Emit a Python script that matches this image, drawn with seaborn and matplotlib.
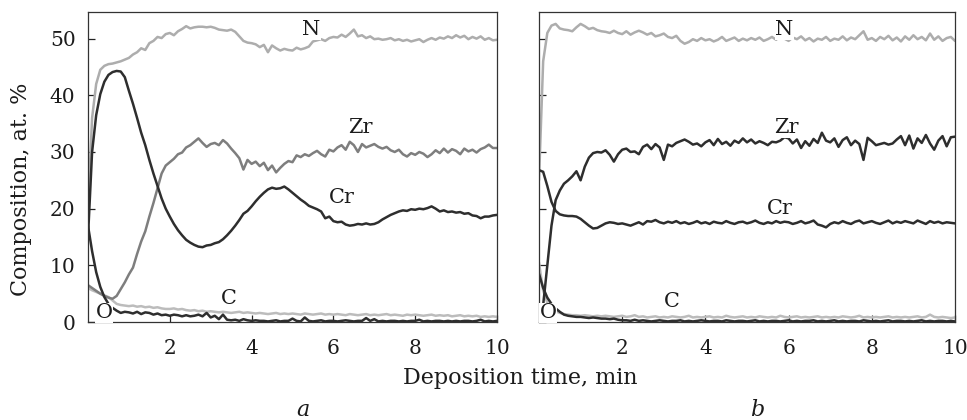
import numpy as np
import matplotlib
matplotlib.use("Agg")
import matplotlib.pyplot as plt
import seaborn as sns

# ─────────────────────────────────────────────
# DATA (t = 0 .. 10 min, step 0.1)
# ─────────────────────────────────────────────
time_min = np.linspace(0, 10, 101)

# panel a
a_N = [20.0, 36.0, 42.0, 44.5, 45.2, 45.5, 45.6, 45.8, 46.0, 46.3,
       46.6, 47.2, 47.6, 48.3, 48.0, 49.2, 49.6, 50.3, 50.1, 50.8,
       51.0, 50.6, 51.3, 51.7, 52.2, 51.8, 52.0, 52.1, 52.1, 52.0,
       52.1, 51.9, 51.6, 51.5, 51.4, 51.6, 51.2, 50.4, 49.6, 49.3,
       49.2, 49.0, 48.5, 48.9, 47.6, 48.8, 48.3, 47.9, 48.2, 48.0,
       47.9, 48.4, 48.1, 48.3, 48.6, 49.5, 49.7, 49.9, 49.6, 50.1,
       50.3, 50.2, 50.7, 50.3, 50.9, 51.6, 50.4, 50.6, 50.1, 50.4,
       49.9, 50.0, 49.8, 49.9, 50.1, 49.7, 49.9, 49.6, 49.8, 49.5,
       49.7, 49.9, 49.4, 49.8, 50.1, 49.8, 50.2, 50.0, 50.4, 50.1,
       50.6, 50.2, 50.5, 49.9, 50.3, 50.0, 50.4, 49.8, 50.1, 49.7, 49.8]
a_Zr = [6.5, 6.0, 5.5, 5.0, 4.6, 4.3, 4.1, 4.6, 5.8, 7.0,
        8.4, 9.6, 12.0, 14.2, 16.0, 18.6, 21.0, 23.6, 26.2, 27.6,
        28.2, 28.8, 29.6, 29.9, 30.8, 31.2, 31.8, 32.4, 31.6, 30.9,
        31.4, 31.6, 31.2, 32.1, 31.5, 30.6, 29.8, 28.9, 26.9, 28.6,
        27.9, 28.3, 27.5, 28.1, 26.8, 27.6, 26.4, 27.2, 27.9, 28.4,
        28.2, 29.4, 29.1, 29.6, 29.3, 29.8, 30.2, 29.6, 29.2, 30.4,
        30.1, 30.8, 31.2, 30.4, 31.8, 31.2, 30.0, 31.4, 30.8, 31.1,
        31.4, 30.9, 30.6, 30.9, 30.3, 30.0, 30.4, 29.6, 29.2, 29.8,
        29.5, 30.0, 29.7, 29.1, 29.6, 30.3, 29.8, 30.6, 29.9, 30.5,
        30.2, 29.6, 30.6, 30.1, 30.4, 29.9, 30.5, 30.8, 31.3, 30.7, 30.7]
a_Cr = [15.0, 30.0, 36.5, 40.2, 42.4, 43.6, 44.1, 44.3, 44.2, 43.2,
        40.8, 38.5, 36.0, 33.4, 31.2, 28.6, 26.2, 24.0, 21.8, 20.0,
        18.6, 17.3, 16.2, 15.3, 14.5, 14.0, 13.6, 13.3, 13.2, 13.5,
        13.6, 13.9, 14.1, 14.6, 15.3, 16.1, 17.0, 18.0, 19.1, 19.6,
        20.4, 21.3, 22.1, 22.8, 23.4, 23.7, 23.5, 23.6, 23.9, 23.4,
        22.8, 22.2, 21.6, 21.1, 20.5, 20.2, 19.9, 19.5, 18.3, 18.6,
        17.8, 17.6, 17.7, 17.2, 17.0, 17.1, 17.3, 17.2, 17.4, 17.2,
        17.3, 17.6, 18.1, 18.5, 18.9, 19.2, 19.5, 19.7, 19.6, 19.9,
        19.8, 20.0, 19.9, 20.1, 20.4, 20.0, 19.5, 19.7, 19.4, 19.5,
        19.3, 19.4, 19.1, 19.2, 18.8, 18.7, 18.3, 18.6, 18.6, 18.8, 18.9]
a_O = [17.0, 12.5, 8.8, 6.2, 4.4, 3.2, 2.5, 2.0, 1.6, 1.8,
       1.7, 1.5, 1.8, 1.4, 1.7, 1.6, 1.3, 1.5, 1.2, 1.3,
       1.1, 1.3, 1.2, 1.0, 1.2, 1.0, 1.1, 1.3, 1.0, 1.6,
       0.8, 1.1, 0.5, 1.3, 0.4, 0.3, 0.4, 0.2, 0.5, 0.3,
       0.2, 0.3, 0.2, 0.2, 0.1, 0.2, 0.3, 0.1, 0.2, 0.2,
       0.6, 0.2, 0.1, 0.8, 0.2, 0.1, 0.2, 0.3, 0.1, 0.2,
       0.2, 0.1, 0.2, 0.3, 0.2, 0.1, 0.2, 0.2, 0.7, 0.2,
       0.5, 0.1, 0.2, 0.1, 0.2, 0.2, 0.1, 0.2, 0.1, 0.2,
       0.2, 0.4, 0.1, 0.2, 0.1, 0.2, 0.2, 0.1, 0.2, 0.1,
       0.2, 0.1, 0.2, 0.2, 0.1, 0.2, 0.4, 0.1, 0.2, 0.1, 0.2]
a_C = [6.0, 5.6, 5.3, 5.0, 4.7, 4.4, 3.8, 3.2, 3.0, 2.9,
       2.8, 2.9, 2.7, 2.8, 2.6, 2.7, 2.5, 2.6, 2.4, 2.3,
       2.3, 2.4, 2.2, 2.3, 2.1, 2.0, 2.1, 1.9, 2.0, 1.8,
       1.9, 1.8, 1.7, 1.8, 1.7, 1.6, 1.7, 1.8, 1.6, 1.7,
       1.6, 1.5, 1.6, 1.5, 1.4, 1.5, 1.6, 1.4, 1.5, 1.4,
       1.5, 1.4, 1.3, 1.5, 1.4, 1.3, 1.4, 1.5, 1.3, 1.4,
       1.3, 1.4, 1.3, 1.2, 1.4, 1.3, 1.2, 1.3, 1.4, 1.2,
       1.3, 1.2, 1.3, 1.4, 1.2, 1.3, 1.2, 1.1, 1.3, 1.2,
       1.3, 1.2, 1.1, 1.2, 1.3, 1.1, 1.2, 1.1, 1.2, 1.0,
       1.1, 1.2, 1.0, 1.1, 1.0, 1.1, 0.9, 1.0, 0.9, 1.0, 0.9]

# panel b
b_N = [25.0, 46.0, 51.0, 52.3, 52.6, 51.8, 51.6, 51.5, 51.3, 52.0,
       52.6, 52.2, 51.7, 51.9, 51.5, 51.3, 51.2, 51.0, 51.4, 51.0,
       50.8, 51.3, 50.7, 51.1, 51.4, 51.1, 50.7, 51.0, 50.4, 50.6,
       50.9, 50.3, 50.1, 50.5, 49.6, 49.1, 49.4, 49.9, 49.6, 50.1,
       49.7, 49.9, 49.5, 49.8, 50.3, 49.6, 49.9, 50.2, 49.6, 50.0,
       49.7, 50.1, 49.8, 50.2, 49.6, 49.9, 50.3, 49.8, 50.5, 50.0,
       49.6, 50.2, 49.9, 50.4, 49.7, 50.1, 49.5, 50.0, 49.8, 50.3,
       49.6, 50.0, 49.8, 50.4, 49.7, 50.2, 49.9, 50.6, 51.3, 49.8,
       50.1, 49.6, 50.3, 49.9, 50.5, 49.7, 50.2, 49.5, 50.4, 49.8,
       50.6, 49.9, 50.3, 49.7, 50.9, 49.8, 50.4, 49.6, 50.1, 50.3, 49.6]
b_Zr = [0.5, 3.0, 10.0, 17.0, 21.5, 23.2, 24.4, 25.0, 25.7, 26.6,
        25.0, 27.4, 29.0, 29.8, 30.0, 29.9, 30.3, 29.5, 28.3, 29.6,
        30.4, 30.6, 30.0, 30.1, 29.6, 30.9, 31.3, 30.5, 31.4, 30.8,
        28.6, 31.3, 31.0, 31.6, 31.9, 32.2, 31.8, 31.3, 31.5, 31.0,
        31.7, 32.1, 31.2, 32.3, 31.4, 31.8, 31.1, 32.0, 31.6, 32.4,
        31.7, 32.2, 31.5, 31.9, 31.6, 31.2, 31.8, 31.7, 32.0, 32.6,
        32.4, 31.5, 32.2, 30.7, 31.9, 31.1, 32.3, 31.6, 33.4, 32.0,
        31.7, 32.4, 30.9, 32.1, 32.6, 31.2, 32.0, 31.4, 28.6, 32.5,
        31.9, 31.2, 31.4, 31.6, 31.3, 31.5, 32.2, 32.8, 31.2, 32.9,
        30.6, 32.4, 31.6, 33.0, 31.5, 30.4, 32.0, 32.8, 31.0, 32.6, 32.7]
b_Cr = [26.8, 26.5, 24.0, 21.2, 19.6, 19.0, 18.8, 18.7, 18.7, 18.6,
        18.2, 17.6, 17.0, 16.5, 16.6, 17.0, 17.4, 17.6, 17.5, 17.3,
        17.4, 17.2, 17.0, 17.3, 17.6, 17.2, 17.8, 17.7, 18.0, 17.6,
        17.4, 17.7, 17.5, 17.8, 17.4, 17.6, 17.3, 17.5, 17.8, 17.4,
        17.6, 17.3, 17.7, 17.5, 17.4, 17.8, 17.5, 17.3, 17.6, 17.7,
        17.4, 17.6, 17.9, 17.5, 17.3, 17.6, 17.4, 17.8, 17.5, 17.7,
        17.6, 17.3, 17.5, 17.8, 17.4, 17.6, 17.9, 17.2, 17.0, 16.7,
        17.3, 17.6, 17.4, 17.8, 17.5, 17.3, 17.7, 17.9, 17.4, 17.6,
        17.8, 17.5, 17.3, 17.6, 17.9, 17.4, 17.7, 17.5, 17.8, 17.6,
        17.4, 17.9, 17.6, 17.3, 17.8, 17.5, 17.7, 17.4, 17.6, 17.5, 17.4]
b_O = [8.5, 6.0, 4.3, 3.2, 2.4, 1.8, 1.3, 1.1, 1.0, 0.9,
       0.9, 0.8, 0.7, 0.8, 0.7, 0.6, 0.6, 0.5, 0.6, 0.4,
       0.3, 0.3, 0.2, 0.4, 0.2, 0.3, 0.2, 0.1, 0.2, 0.3,
       0.2, 0.1, 0.2, 0.2, 0.3, 0.1, 0.2, 0.1, 0.2, 0.3,
       0.2, 0.1, 0.2, 0.2, 0.1, 0.3, 0.2, 0.1, 0.2, 0.2,
       0.1, 0.2, 0.3, 0.1, 0.2, 0.1, 0.2, 0.2, 0.1, 0.2,
       0.3, 0.1, 0.2, 0.1, 0.2, 0.2, 0.3, 0.1, 0.2, 0.1,
       0.2, 0.3, 0.1, 0.2, 0.1, 0.2, 0.2, 0.1, 0.3, 0.2,
       0.1, 0.2, 0.1, 0.2, 0.3, 0.1, 0.2, 0.2, 0.1, 0.2,
       0.1, 0.2, 0.3, 0.1, 0.2, 0.1, 0.2, 0.2, 0.1, 0.2, 0.1]
b_C = [10.5, 5.5, 3.4, 2.4, 1.9, 1.6, 1.4, 1.3, 1.2, 1.2,
       1.1, 1.2, 1.1, 1.0, 1.1, 1.0, 1.1, 1.0, 0.9, 1.0,
       1.1, 0.9, 1.0, 1.2, 0.9, 1.0, 0.8, 0.9, 1.0, 0.8,
       0.9, 0.8, 1.0, 0.9, 0.8, 0.9, 1.1, 0.8, 0.9, 0.8,
       0.9, 1.0, 0.8, 0.9, 0.8, 1.1, 0.9, 0.8, 0.9, 1.0,
       0.8, 0.9, 0.8, 1.0, 0.9, 0.8, 0.9, 0.8, 1.1, 0.9,
       0.8, 0.9, 1.0, 0.8, 0.9, 0.8, 0.9, 1.0, 0.8, 0.9,
       0.8, 0.9, 0.8, 1.0, 0.9, 0.8, 0.9, 1.1, 0.8, 0.9,
       0.8, 0.9, 0.8, 0.9, 1.0, 0.8, 0.9, 0.8, 0.9, 0.8,
       0.9, 1.0, 0.8, 0.9, 1.3, 0.9, 0.8, 0.9, 0.8, 0.7, 0.8]

x_ticks = [2, 4, 6, 8, 10]
y_ticks = [0, 10, 20, 30, 40, 50]

# curve label positions (time, composition)
labels_a = {"N": (5.45, 51.6), "Zr": (6.65, 34.4), "Cr": (6.2, 21.9), "C": (3.45, 4.2), "O": (0.4, 1.6)}
labels_b = {"N": (5.9, 51.6), "Zr": (5.95, 34.3), "Cr": (5.8, 20.1), "C": (3.2, 3.6), "O": (0.22, 1.6)}

# ─────────────────────────────────────────────
# STYLE
# ─────────────────────────────────────────────
sns.set_theme(style="ticks")
plt.rcParams['font.family'] = ['DejaVu Serif']
plt.rcParams['mathtext.fontset'] = 'dejavuserif'

DARK = "#2e2e2e"
MID = "#7e7e7e"
LIGHT_N = "#adadad"
LIGHT_C = "#bcbcbc"
TXT = "#1c1c1c"

fig = plt.figure(figsize=(9.67, 4.2), dpi=100)
ax_a = fig.add_axes([88 / 967, 1 - 322 / 420, (497 - 88) / 967, 310 / 420])
ax_b = fig.add_axes([539 / 967, 1 - 322 / 420, (955 - 539) / 967, 310 / 420])


def draw_panel(ax, series, labels, show_ylabels):
    for vals, col in series:
        sns.lineplot(x=time_min, y=vals, ax=ax, color=col, lw=1.8, errorbar=None)
    for name, (tx, ty) in labels.items():
        ax.text(tx, ty, name, fontsize=15, ha="center", va="center", color=TXT,
                bbox=dict(facecolor="white", edgecolor="none", pad=0.5), zorder=5)
    ax.set_xlim(0, 10)
    ax.set_ylim(0, 54.7)
    ax.set_xticks(x_ticks)
    ax.set_yticks(y_ticks)
    ax.tick_params(direction="in", length=5, width=0.9, labelsize=14.5,
                   top=False, right=False, colors="#222222", labelcolor=TXT)
    ax.tick_params(axis="x", pad=12.5)
    ax.tick_params(axis="y", pad=9)
    if not show_ylabels:
        ax.set_yticklabels([])
    for sp in ax.spines.values():
        sp.set_color("#333333")
        sp.set_linewidth(0.9)
    ax.set_xlabel("")
    ax.set_ylabel("")


draw_panel(ax_a, [(a_C, LIGHT_C), (a_N, LIGHT_N), (a_Zr, MID), (a_O, DARK), (a_Cr, DARK)],
           labels_a, True)
draw_panel(ax_b, [(b_C, LIGHT_C), (b_N, LIGHT_N), (b_O, DARK), (b_Zr, DARK), (b_Cr, DARK)],
           labels_b, False)

fig.text(520 / 967, 1 - 378 / 420, "Deposition time, min", ha="center", va="center",
         fontsize=16, color=TXT)
fig.text(21 / 967, 1 - 189 / 420, "Composition, at. %", ha="center", va="center",
         rotation=90, fontsize=16, color=TXT)
fig.text(303 / 967, 1 - 410 / 420, "a", ha="center", va="center", fontsize=16,
         style="italic", color=TXT)
fig.text(757 / 967, 1 - 410 / 420, "b", ha="center", va="center", fontsize=16,
         style="italic", color=TXT)

fig.savefig("out.png", dpi=100)
